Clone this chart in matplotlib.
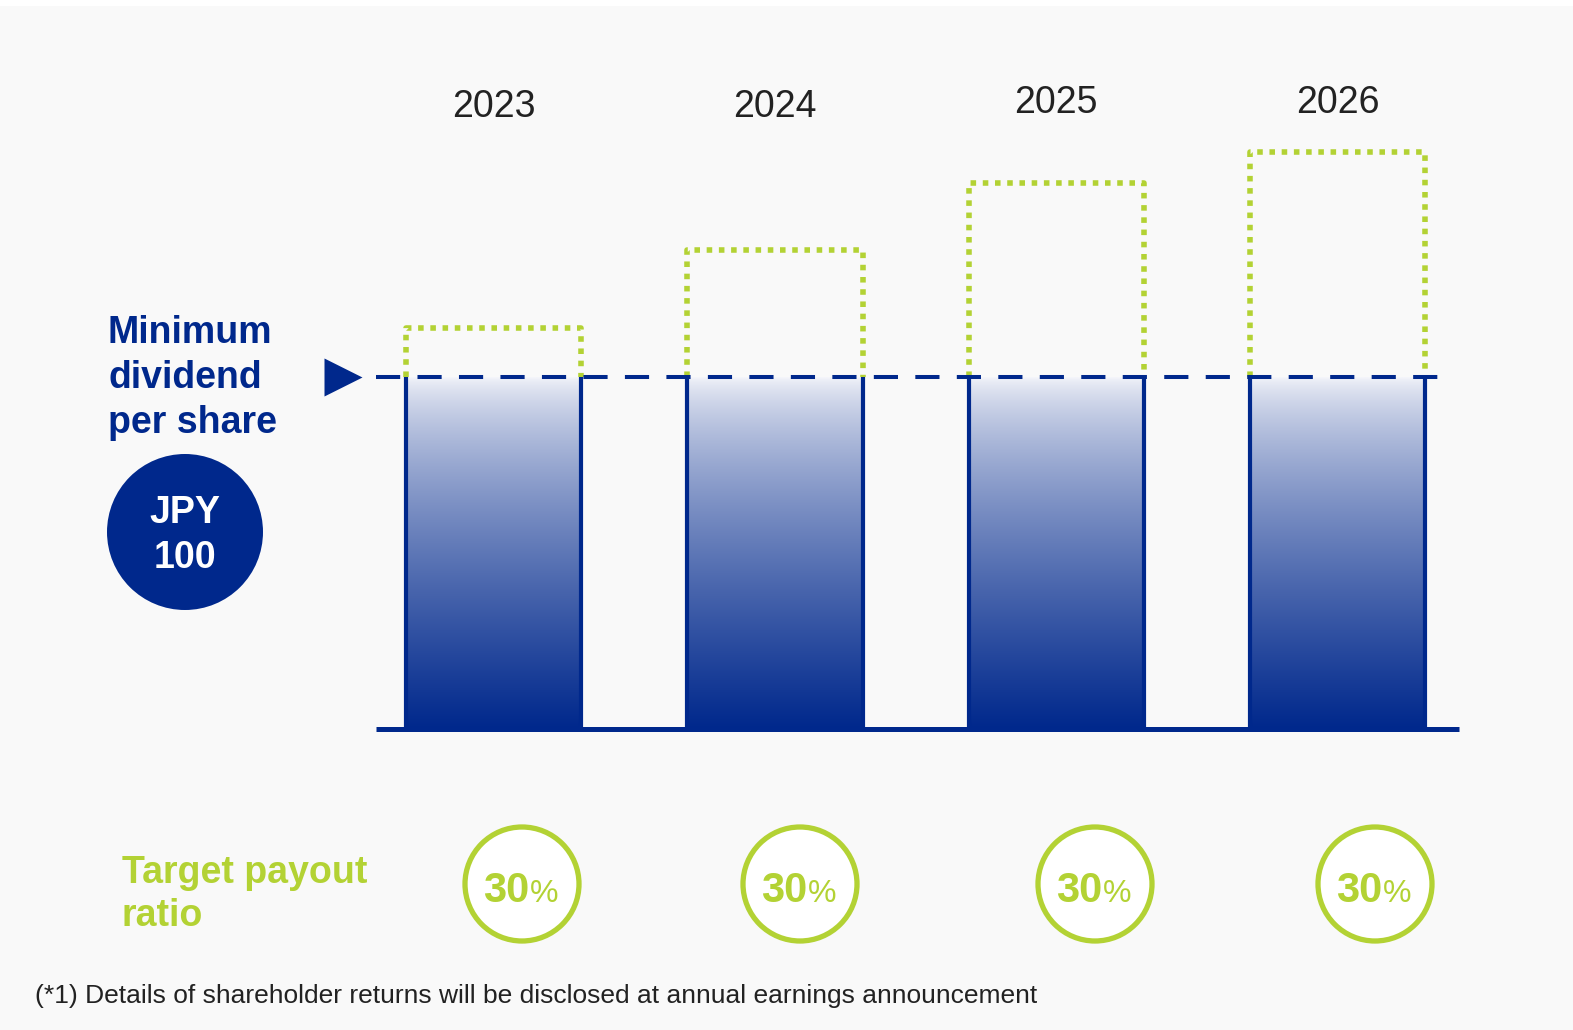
import numpy as np
import matplotlib
matplotlib.use("Agg")
from matplotlib import pyplot as plt
from matplotlib.patches import Circle, Rectangle

plt.rcParams['font.family'] = ['Liberation Sans', 'DejaVu Sans']

years = ['2023', '2024', '2025', '2026']
min_dividend = 100
# dotted "upside" tops in the same units as the JPY 100 floor
upside_top = [114, 136, 155, 164]
payout_ratio = [30, 30, 30, 30]
footnote = "(*1) Details of shareholder returns will be disclosed at annual earnings announcement"

navy = '#00288c'
green = '#b3d234'
bg = '#f9f9f9'

W, H = 1573, 1030
fig = plt.figure(figsize=(W / 100, H / 100), dpi=100, facecolor=bg)
px = fig.dpi_scale_trans


def pos(x, y):
    # pixel position (from top-left) -> inches for dpi_scale_trans
    return x / 100, (H - y) / 100


fig.patches.append(Rectangle((0, (H - 6) / 100), W / 100, 0.06, transform=px,
                             facecolor='white', edgecolor='none'))

# main chart axes: baseline at y=729 px, data 100 at y=377 px
ax = fig.add_axes([376 / W, 1 - 729 / H, (1459 - 376) / W, (729 - 60) / H])
ax.set_facecolor('none')
ax.axis('off')
xmin, xmax = -0.418, 3.432
ymax = (729 - 60) / 3.52
bar_w = 0.623

top_c = np.array([244, 245, 250]) / 255
bot_c = np.array([0, 40, 140]) / 255
t = np.linspace(0, 1, 256) ** 0.7
t = t[:, None, None]
grad = top_c * (1 - t) + bot_c * t

year_y = [176.7, 176.7, 177.8, 177.8]
xs = np.arange(len(years))
for i, yr in enumerate(years):
    l, r = xs[i] - bar_w / 2, xs[i] + bar_w / 2
    ax.imshow(grad, extent=[l, r, 0, min_dividend], origin='upper', aspect='auto',
              interpolation='bilinear', zorder=1)
    ax.plot([l, l], [0, min_dividend], color=navy, lw=3, solid_capstyle='butt', zorder=2)
    ax.plot([r, r], [0, min_dividend], color=navy, lw=3, solid_capstyle='butt', zorder=2)
    ax.plot([l, l, r, r], [min_dividend, upside_top[i], upside_top[i], min_dividend],
            color=green, lw=4, linestyle=(0, (1, 1.2)), dash_capstyle='butt', zorder=2)
    ax.text(xs[i], year_y[i], yr, ha='center', va='center', fontsize=27, color='#222222')

ax.plot([xmin, xmax], [0, 0], color=navy, lw=3.6, solid_capstyle='butt', zorder=3,
        clip_on=False)
ax.plot([xmin, 3.383], [min_dividend, min_dividend], color=navy, lw=2.9,
        linestyle=(0, (6, 4.3)), dash_capstyle='butt', zorder=3)
ax.plot([-0.534], [min_dividend], marker='>', ms=28, color=navy, mec='none', clip_on=False)
ax.set_xlim(xmin, xmax)
ax.set_ylim(0, ymax)

# left labels
for line, yb in zip(['Minimum', 'dividend', 'per share'], [343, 388, 433]):
    fig.text(*pos(108, yb), line, transform=px, fontsize=27, fontweight='bold',
             color=navy, va='baseline', ha='left')

fig.patches.append(Circle(pos(185, 532), 78 / 100, transform=px, facecolor=navy,
                          edgecolor='none'))
fig.text(*pos(185, 523), 'JPY', transform=px, fontsize=27, fontweight='bold',
         color='white', va='baseline', ha='center')
fig.text(*pos(185, 568), '%d' % min_dividend, transform=px, fontsize=27,
         fontweight='bold', color='white', va='baseline', ha='center')

for line, yb in zip(['Target payout', 'ratio'], [883, 926]):
    fig.text(*pos(122, yb), line, transform=px, fontsize=27, fontweight='bold',
             color=green, va='baseline', ha='left')

circle_x = [522, 800, 1095, 1375]
for cx, pr in zip(circle_x, payout_ratio):
    fig.patches.append(Circle(pos(cx, 884), 57 / 100, transform=px, facecolor='white',
                              edgecolor=green, lw=3.8))
    fig.text(*pos(cx + 7, 902), '%d' % pr, transform=px, fontsize=30, fontweight='bold',
             color=green, va='baseline', ha='right')
    fig.text(*pos(cx + 8, 902), '%', transform=px, fontsize=23,
             color=green, va='baseline', ha='left')

fig.text(*pos(35, 1003), footnote, transform=px, fontsize=19, color='#222222',
         va='baseline', ha='left')

fig.savefig('out.png', dpi=100, facecolor=bg)
